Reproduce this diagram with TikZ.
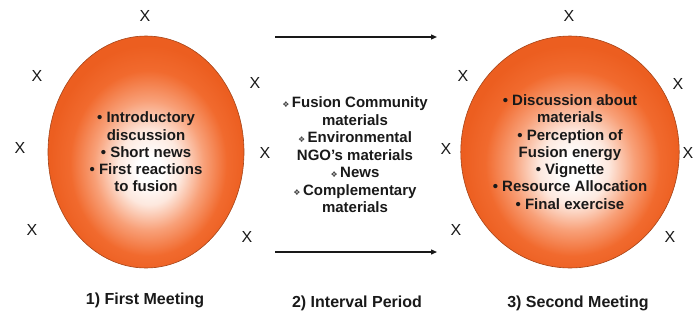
\documentclass[tikz,border=0pt]{standalone}
\usepackage{fontspec}
\setmainfont{Liberation Sans}
\newfontfamily\symfont{DejaVu Sans}
\usetikzlibrary{shapes.geometric,arrows.meta}

\definecolor{ink}{RGB}{25,25,25}
\definecolor{eggpale}{RGB}{253,232,222}
\definecolor{eggmid}{RGB}{248,160,120}
\definecolor{eggorange}{RGB}{241,106,46}
\definecolor{eggrim}{RGB}{236,94,32}
\definecolor{eggline}{RGB}{165,68,24}
\definecolor{diamondgray}{RGB}{70,70,70}

% soft white core, slightly below the centre, fading to orange
\pgfdeclareradialshading{eggshade}{\pgfpoint{1bp}{-4bp}}{%
  color(0bp)=(white); color(3bp)=(white); color(8bp)=(eggpale);
  color(14bp)=(eggmid); color(20bp)=(eggorange); color(25bp)=(eggrim);
  color(50bp)=(eggrim)}

\newcommand\dia{{\symfont\fontsize{8}{8}\selectfont\textcolor{diamondgray}{❖}}\,}

\tikzset{
  egg/.style={ellipse, draw=eggline, line width=0.6pt, shading=eggshade,
    minimum width=196pt, minimum height=232pt, inner sep=0pt, align=center,
    font=\bfseries\fontsize{15}{17.3}\selectfont, text=ink},
  xmark/.style={font=\fontsize{16}{16}\selectfont, text=ink, inner sep=0pt},
  phase/.style={font=\bfseries\fontsize{16}{18}\selectfont, text=ink, inner sep=0pt},
  notes/.style={align=center, font=\bfseries\fontsize{15}{17.5}\selectfont,
    text=ink, inner sep=0pt},
  flow/.style={-{Triangle[length=6pt,width=5pt]}, line width=1.3pt, draw=ink}
}

\begin{document}
\begin{tikzpicture}[x=1pt,y=-1pt]
\useasboundingbox (0,0) rectangle (697,325);

% the two meetings
\node[egg] (meet1) at (146,152) {• Introductory\\discussion\\• Short news\\• First reactions\\to fusion};
\node[egg] (meet2) at (570,152) {• Discussion about\\materials\\• Perception of\\Fusion energy\\• Vignette\\• Resource Allocation\\• Final exercise};

% participants around the first meeting
\node[xmark] (p1) at (145,16) {X};
\node[xmark] (p2) at (37,76) {X};
\node[xmark] (p3) at (255,83) {X};
\node[xmark] (p4) at (20,148) {X};
\node[xmark] (p5) at (265,153) {X};
\node[xmark] (p6) at (32,230) {X};
\node[xmark] (p7) at (247,237) {X};

% participants around the second meeting
\node[xmark] (q1) at (569,16) {X};
\node[xmark] (q2) at (463,76) {X};
\node[xmark] (q3) at (678,84) {X};
\node[xmark] (q4) at (446,149) {X};
\node[xmark] (q5) at (688,153) {X};
\node[xmark] (q6) at (456,230) {X};
\node[xmark] (q7) at (670,237) {X};

% materials handed out between the meetings
\node[notes] (mats) at (355,155) {\dia Fusion Community\\materials\\\dia Environmental\\NGO’s materials\\\dia News\\\dia Complementary\\materials};

% interval arrows
\coordinate (t1) at (275,37);
\coordinate (t2) at (437,37);
\coordinate (b1) at (275,252);
\coordinate (b2) at (437,252);
\draw[flow] (t1) -- (t2);
\draw[flow] (b1) -- (b2);

% phase captions
\node[phase] (cap1) at (145,300) {1) First Meeting};
\node[phase] (cap2) at (357,303) {2) Interval Period};
\node[phase] (cap3) at (578,303) {3) Second Meeting};
\end{tikzpicture}
\end{document}
